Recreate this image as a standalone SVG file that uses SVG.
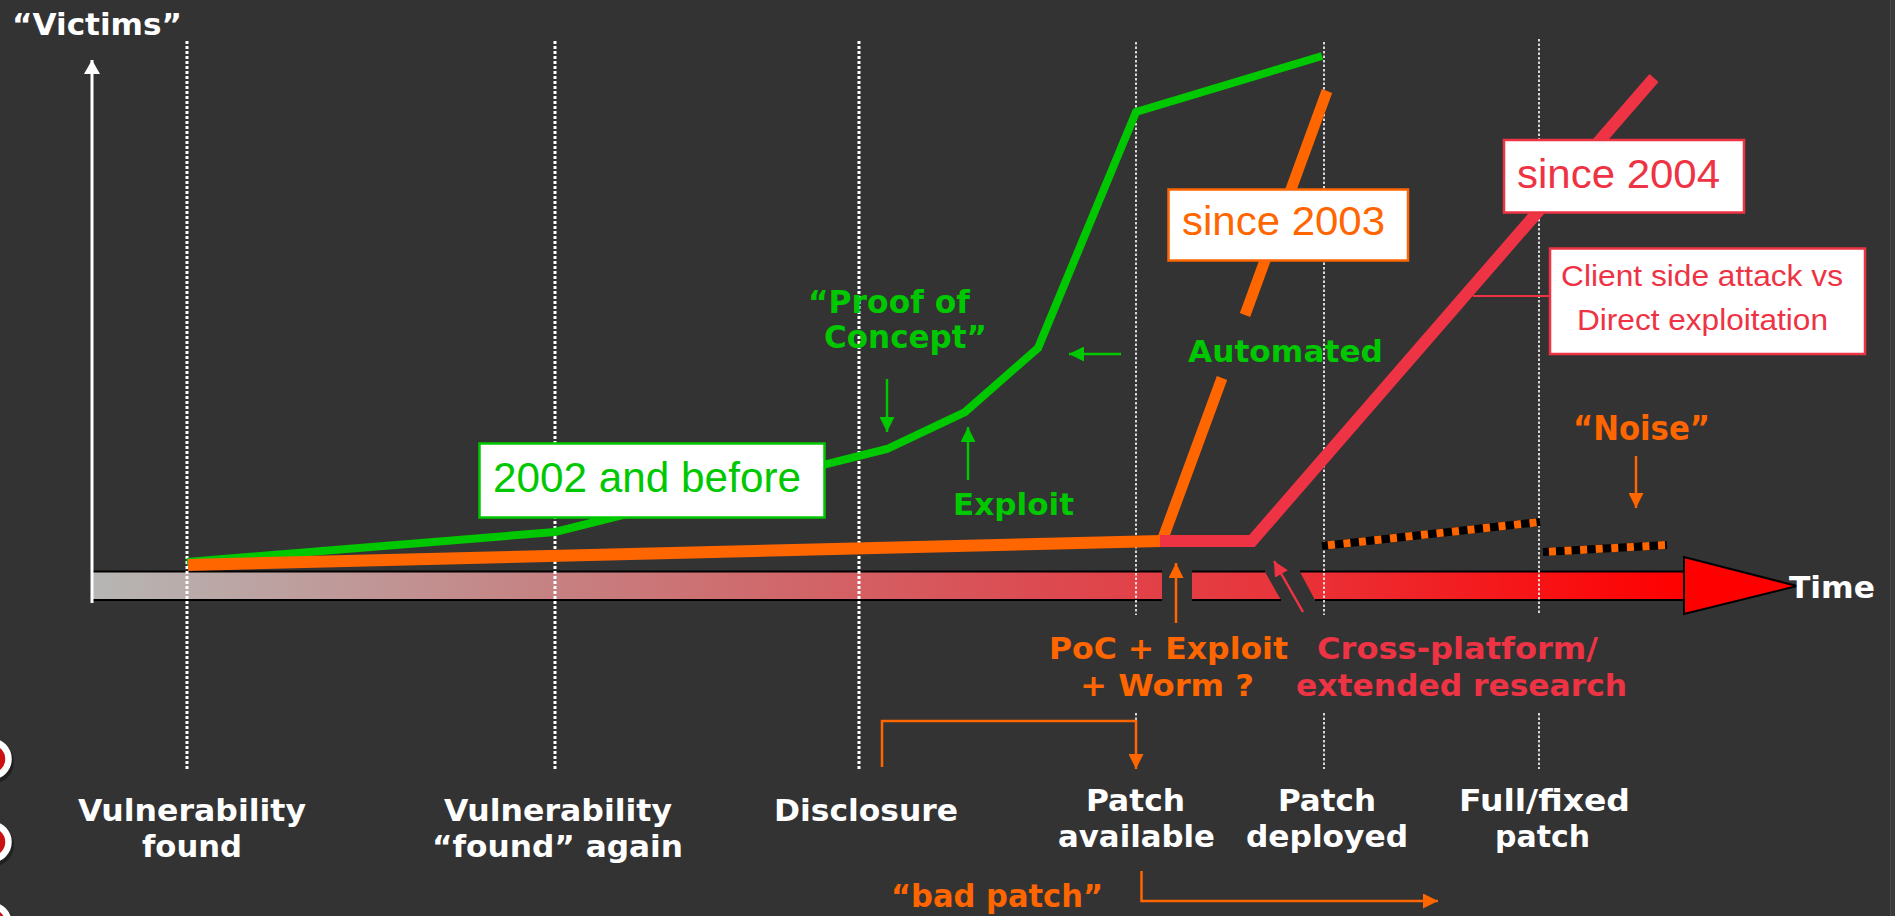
<svg xmlns="http://www.w3.org/2000/svg" width="1895" height="916" viewBox="0 0 1895 916">
<defs>
<style>
.lbl{font-family:"DejaVu Sans",Verdana,sans-serif;font-weight:bold;}
.box{font-family:"Liberation Sans",Arial,sans-serif;}
.w{fill:#ffffff;}
.g{fill:#00c800;}
.o{fill:#ff6600;}
.r{fill:#ee3344;}
.dotA{stroke:#ffffff;stroke-width:3;stroke-dasharray:3 2;fill:none;}
.dotB{stroke:#ffffff;stroke-width:1.6;stroke-dasharray:2.5 2;fill:none;}
.curve{fill:none;stroke-linecap:butt;stroke-linejoin:miter;}
.thin{fill:none;stroke-width:2.5;}
</style>
<linearGradient id="barGrad" gradientUnits="userSpaceOnUse" x1="93" y1="0" x2="1684" y2="0">
<stop offset="0" stop-color="#b6b6b4"/>
<stop offset="0.3" stop-color="#c77f80"/>
<stop offset="0.6" stop-color="#dc4a50"/>
<stop offset="0.75" stop-color="#e8343a"/>
<stop offset="1" stop-color="#ff0000"/>
</linearGradient>
<marker id="ahG" markerUnits="userSpaceOnUse" markerWidth="16" markerHeight="15" refX="15" refY="7.5" orient="auto"><path d="M0,0 L15,7.5 L0,15 z" fill="#00c800"/></marker>
<marker id="ahO" markerUnits="userSpaceOnUse" markerWidth="16" markerHeight="15" refX="15" refY="7.5" orient="auto"><path d="M0,0 L15,7.5 L0,15 z" fill="#ff6600"/></marker>
<marker id="ahR" markerUnits="userSpaceOnUse" markerWidth="16" markerHeight="15" refX="15" refY="7.5" orient="auto"><path d="M0,0 L15,7.5 L0,15 z" fill="#ee3344"/></marker>
<marker id="ahW" markerUnits="userSpaceOnUse" markerWidth="15" markerHeight="17" refX="14" refY="8" orient="auto"><path d="M0,0 L14,8 L0,16 z" fill="#ffffff"/></marker>
</defs>

<rect x="0" y="0" width="1895" height="916" fill="#333333"/>
<rect x="1890" y="0" width="5" height="916" fill="#3b3b3b"/>
<line x1="1890.5" y1="0" x2="1890.5" y2="916" stroke="#4a4a4a" stroke-width="1"/>

<g id="bullets">
<circle cx="-8" cy="762" r="22" fill="#000000" opacity="0.35"/>
<circle cx="-9" cy="759" r="17.5" fill="#cc1111" stroke="#ffffff" stroke-width="6.5"/>
<circle cx="-8" cy="845" r="22" fill="#000000" opacity="0.35"/>
<circle cx="-9" cy="842" r="17.5" fill="#cc1111" stroke="#ffffff" stroke-width="6.5"/>
<circle cx="-8" cy="926" r="22" fill="#000000" opacity="0.35"/>
<circle cx="-9" cy="923" r="17.5" fill="#cc1111" stroke="#ffffff" stroke-width="6.5"/>
</g>

<g id="time-axis">
<polygon points="93,572 1162,572 1162,600 93,600" fill="url(#barGrad)"/>
<polygon points="1192,572 1265,572 1281,600 1192,600" fill="url(#barGrad)"/>
<polygon points="1300,572 1684,572 1684,600 1315,600" fill="url(#barGrad)"/>
<g stroke="#000000" stroke-width="2">
<line x1="93" y1="571.5" x2="1162" y2="571.5"/>
<line x1="93" y1="600" x2="1162" y2="600"/>
<line x1="1192" y1="571.5" x2="1265" y2="571.5"/>
<line x1="1192" y1="600" x2="1281" y2="600"/>
<line x1="1300" y1="571.5" x2="1684" y2="571.5"/>
<line x1="1315" y1="600" x2="1684" y2="600"/>
</g>
<polygon points="1684,557 1684,614 1797,586" fill="#ff0000" stroke="#000000" stroke-width="2" stroke-linejoin="miter"/>
<text class="lbl w" x="1789" y="598" font-size="30" textLength="86" lengthAdjust="spacingAndGlyphs">Time</text>
</g>

<g id="victims-axis">
<line x1="92" y1="603" x2="92" y2="60" stroke="#ffffff" stroke-width="3" marker-end="url(#ahW)"/>
<text class="lbl w" x="12" y="35" font-size="31" textLength="170" lengthAdjust="spacingAndGlyphs">“Victims”</text>
</g>

<g id="milestone-lines">
<line class="dotA" x1="187" y1="41" x2="187" y2="769"/>
<line class="dotA" x1="555" y1="41" x2="555" y2="769"/>
<line class="dotA" x1="859" y1="41" x2="859" y2="769"/>
<line class="dotB" x1="1136" y1="42" x2="1136" y2="615"/>
<line class="dotB" x1="1136" y1="713" x2="1136" y2="769"/>
<line class="dotB" x1="1324" y1="42" x2="1324" y2="615"/>
<line class="dotB" x1="1324" y1="713" x2="1324" y2="769"/>
<line class="dotB" x1="1539" y1="39" x2="1539" y2="615"/>
<line class="dotB" x1="1539" y1="713" x2="1539" y2="769"/>
</g>

<g id="curve-2002">
<polyline class="curve" points="187,562 555,532 887,449 965,412 1038,348 1136,112 1322,56" stroke="#00c800" stroke-width="8"/>
</g>

<g id="curve-2003">
<line class="curve" x1="188" y1="565" x2="1161" y2="541" stroke="#ff6600" stroke-width="12"/>
<line class="curve" x1="1162" y1="541" x2="1222" y2="378" stroke="#ff6600" stroke-width="11"/>
<line class="curve" x1="1245" y1="315" x2="1327" y2="91" stroke="#ff6600" stroke-width="11"/>
</g>

<g id="curve-2004">
<polyline class="curve" points="1160,541 1252,541 1654,78" stroke="#ee3344" stroke-width="12"/>
</g>

<g id="noise">
<line x1="1322" y1="546" x2="1540" y2="522" stroke="#000000" stroke-width="8"/>
<line x1="1322" y1="546" x2="1540" y2="522" stroke="#ff6600" stroke-width="8" stroke-dasharray="7 8.6" stroke-dashoffset="-6"/>
<line x1="1543" y1="552" x2="1667" y2="545" stroke="#000000" stroke-width="8"/>
<line x1="1543" y1="552" x2="1667" y2="545" stroke="#ff6600" stroke-width="8" stroke-dasharray="7 8.6" stroke-dashoffset="-6"/>
<text class="lbl o" x="1573" y="440" font-size="33" textLength="137" lengthAdjust="spacingAndGlyphs">“Noise”</text>
</g>

<g id="connectors">
<line class="thin" x1="887" y1="379" x2="887" y2="432" stroke="#00c800" marker-end="url(#ahG)"/>
<line class="thin" x1="968" y1="480" x2="968" y2="427" stroke="#00c800" marker-end="url(#ahG)"/>
<line class="thin" x1="1121" y1="354" x2="1069" y2="354" stroke="#00c800" marker-end="url(#ahG)"/>
<line class="thin" x1="1176" y1="623" x2="1176" y2="563" stroke="#ff6600" marker-end="url(#ahO)"/>
<line class="thin" x1="1303" y1="612" x2="1274" y2="561" stroke="#ee3344" marker-end="url(#ahR)"/>
<line class="thin" x1="1636" y1="456" x2="1636" y2="508" stroke="#ff6600" marker-end="url(#ahO)"/>
<polyline class="thin" points="882,767 882,721 1136,721 1136,769" stroke="#ff6600" marker-end="url(#ahO)"/>
<polyline class="thin" points="1141.5,871 1141.5,901 1438,901" stroke="#ff6600" marker-end="url(#ahO)"/>
<line x1="1473" y1="296" x2="1550" y2="296" stroke="#ee3344" stroke-width="2"/>
</g>

<g id="box-2002">
<rect x="479.5" y="443.5" width="345" height="74" fill="#ffffff" stroke="#00c800" stroke-width="2.5"/>
<text class="box g" x="493" y="492" font-size="42" textLength="308" lengthAdjust="spacingAndGlyphs">2002 and before</text>
</g>
<g id="box-2003">
<rect x="1168.5" y="189.5" width="239.5" height="71" fill="#ffffff" stroke="#ff6600" stroke-width="2.5"/>
<text class="box o" x="1182" y="235" font-size="41" textLength="203" lengthAdjust="spacingAndGlyphs">since 2003</text>
</g>
<g id="box-2004">
<rect x="1504" y="140" width="240" height="72.5" fill="#ffffff" stroke="#ee3344" stroke-width="2.5"/>
<text class="box r" x="1517" y="188" font-size="41" textLength="203" lengthAdjust="spacingAndGlyphs">since 2004</text>
</g>
<g id="box-client">
<rect x="1550" y="248.5" width="315" height="105.5" fill="#ffffff" stroke="#ee3344" stroke-width="2.5"/>
<text class="box r" x="1561" y="286" font-size="30" textLength="282" lengthAdjust="spacingAndGlyphs">Client side attack vs</text>
<text class="box r" x="1577" y="330" font-size="30" textLength="251" lengthAdjust="spacingAndGlyphs">Direct exploitation</text>
</g>

<g id="label-poc">
<text class="lbl g" x="808" y="313" font-size="32" textLength="162" lengthAdjust="spacingAndGlyphs">“Proof of</text>
<text class="lbl g" x="824" y="348" font-size="32" textLength="163" lengthAdjust="spacingAndGlyphs">Concept”</text>
</g>
<g id="label-exploit">
<text class="lbl g" x="953" y="515" font-size="31" textLength="121" lengthAdjust="spacingAndGlyphs">Exploit</text>
</g>
<g id="label-automated">
<text class="lbl g" x="1188" y="362" font-size="31" textLength="195" lengthAdjust="spacingAndGlyphs">Automated</text>
</g>
<g id="label-worm">
<text class="lbl o" x="1049" y="659" font-size="31" textLength="239" lengthAdjust="spacingAndGlyphs">PoC + Exploit</text>
<text class="lbl o" x="1080" y="696" font-size="31" textLength="174" lengthAdjust="spacingAndGlyphs">+ Worm ?</text>
</g>
<g id="label-crossplatform">
<text class="lbl r" x="1317" y="659" font-size="31" textLength="281" lengthAdjust="spacingAndGlyphs">Cross-platform/</text>
<text class="lbl r" x="1296" y="696" font-size="31" textLength="331" lengthAdjust="spacingAndGlyphs">extended research</text>
</g>
<g id="label-badpatch">
<text class="lbl o" x="891" y="907" font-size="32" textLength="212" lengthAdjust="spacingAndGlyphs">“bad patch”</text>
</g>

<g id="m-found">
<text class="lbl w" x="78" y="821" font-size="31" textLength="228" lengthAdjust="spacingAndGlyphs">Vulnerability</text>
<text class="lbl w" x="142" y="857" font-size="31" textLength="100" lengthAdjust="spacingAndGlyphs">found</text>
</g>
<g id="m-found-again">
<text class="lbl w" x="444" y="821" font-size="31" textLength="228" lengthAdjust="spacingAndGlyphs">Vulnerability</text>
<text class="lbl w" x="432" y="857" font-size="31" textLength="251" lengthAdjust="spacingAndGlyphs">“found” again</text>
</g>
<g id="m-disclosure">
<text class="lbl w" x="774" y="821" font-size="31" textLength="184" lengthAdjust="spacingAndGlyphs">Disclosure</text>
</g>
<g id="m-patch-available">
<text class="lbl w" x="1086" y="811" font-size="31" textLength="99" lengthAdjust="spacingAndGlyphs">Patch</text>
<text class="lbl w" x="1058" y="847" font-size="31" textLength="157" lengthAdjust="spacingAndGlyphs">available</text>
</g>
<g id="m-patch-deployed">
<text class="lbl w" x="1278" y="811" font-size="31" textLength="98" lengthAdjust="spacingAndGlyphs">Patch</text>
<text class="lbl w" x="1246" y="847" font-size="31" textLength="162" lengthAdjust="spacingAndGlyphs">deployed</text>
</g>
<g id="m-full-patch">
<text class="lbl w" x="1459" y="811" font-size="31" textLength="171" lengthAdjust="spacingAndGlyphs">Full/fixed</text>
<text class="lbl w" x="1495" y="847" font-size="31" textLength="95" lengthAdjust="spacingAndGlyphs">patch</text>
</g>
</svg>
